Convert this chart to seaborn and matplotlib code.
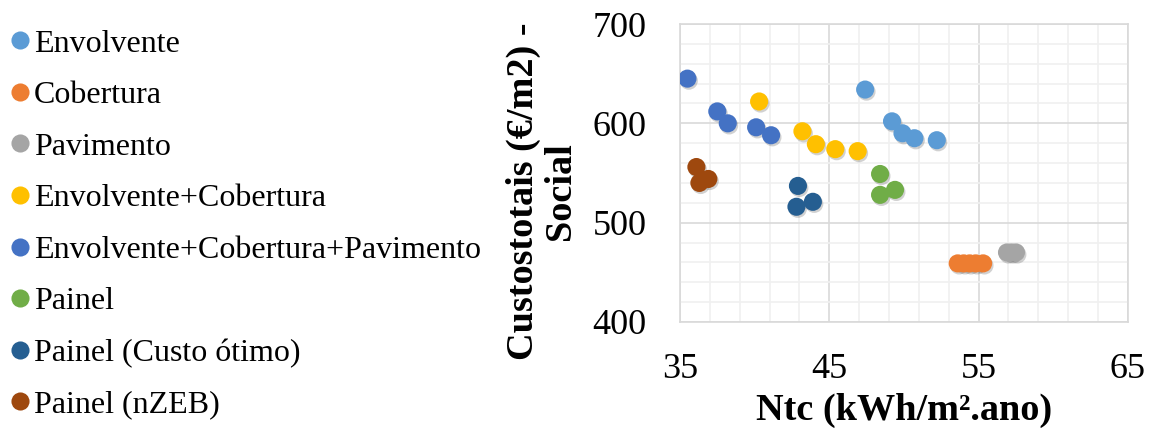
import numpy as np
import pandas as pd
import matplotlib
matplotlib.use("Agg")
import matplotlib.pyplot as plt
import matplotlib.patheffects as pe
import seaborn as sns

# data
series = ["Envolvente", "Cobertura", "Pavimento", "Envolvente+Cobertura",
          "Envolvente+Cobertura+Pavimento", "Painel", "Painel (Custo ótimo)",
          "Painel (nZEB)"]
colors = ["#5B9BD5", "#ED7D31", "#A5A5A5", "#FFC000",
          "#4472C4", "#70AD47", "#255E91", "#9E480E"]

envolvente_x = [47.4, 49.2, 49.9, 50.7, 52.2]
envolvente_y = [634, 602, 590, 585, 583]
cobertura_x = [53.6, 54.0, 54.4, 54.8, 55.3]
cobertura_y = [459, 459, 459, 459, 459]
pavimento_x = [56.9, 57.2, 57.5]
pavimento_y = [470, 470, 470]
env_cob_x = [40.3, 43.2, 44.1, 45.4, 46.9]
env_cob_y = [622, 592, 579, 574, 572]
env_cob_pav_x = [35.5, 37.5, 38.2, 40.1, 41.1]
env_cob_pav_y = [645, 612, 600, 596, 588]
painel_x = [48.4, 49.4, 48.4]
painel_y = [549, 533, 528]
painel_co_x = [42.9, 43.9, 42.8]
painel_co_y = [537, 521, 516]
painel_nzeb_x = [36.1, 36.9, 36.3]
painel_nzeb_y = [556, 544, 540]

x_ticks = [35, 45, 55, 65]
y_ticks = [400, 500, 600, 700]

xs = [envolvente_x, cobertura_x, pavimento_x, env_cob_x, env_cob_pav_x,
      painel_x, painel_co_x, painel_nzeb_x]
ys = [envolvente_y, cobertura_y, pavimento_y, env_cob_y, env_cob_pav_y,
      painel_y, painel_co_y, painel_nzeb_y]

rows = []
for name, sx, sy in zip(series, xs, ys):
    for a, b in zip(sx, sy):
        rows.append({"serie": name, "ntc": a, "custo": b})
df = pd.DataFrame(rows)

sns.set_style("white")
plt.rcParams["font.family"] = ["Liberation Serif", "DejaVu Serif"]
plt.rcParams["text.color"] = "black"
plt.rcParams["axes.labelcolor"] = "black"
plt.rcParams["xtick.color"] = "black"
plt.rcParams["ytick.color"] = "black"

fig = plt.figure(figsize=(11.57, 4.34), dpi=100)
ax = fig.add_axes([0.5877, 0.2581, 0.3872, 0.6866])

sns.scatterplot(data=df, x="ntc", y="custo", hue="serie", hue_order=series,
                palette=dict(zip(series, colors)), s=170, linewidth=0,
                ax=ax, legend=True, zorder=3)
for coll in ax.collections:
    coll.set_path_effects([pe.SimplePatchShadow(offset=(1, -1.5), shadow_rgbFace="#303030",
                                                alpha=0.22),
                           pe.Normal()])

# axes
ax.set_xlim(35, 65)
ax.set_ylim(400, 700)
ax.set_xticks(x_ticks)
ax.set_xticks(np.arange(35, 66, 2), minor=True)
ax.set_yticks(y_ticks)
ax.set_yticks(np.arange(400, 701, 20), minor=True)
ax.grid(which="major", color="#D9D9D9", lw=1.2, zorder=0)
ax.grid(which="minor", color="#F0F0F0", lw=1.2, zorder=0)
ax.set_axisbelow(True)
for loc in ["top", "right", "bottom", "left"]:
    ax.spines[loc].set_visible(True)
    ax.spines[loc].set_color("#D9D9D9")
    ax.spines[loc].set_linewidth(1.2)
ax.tick_params(axis="both", which="both", length=0, labelsize=26)
ax.tick_params(axis="x", pad=22)
ax.tick_params(axis="y", pad=24)
ax.set_xlabel("Ntc (kWh/m².ano)", fontsize=27.5, fontweight="bold", labelpad=5)
ax.set_ylabel("Custostotais (€/m2) -\nSocial", fontsize=27.5, fontweight="bold",
              linespacing=1.1)
ax.yaxis.set_label_coords(-0.308, 0.44)
ax.yaxis.label.set_va("center")

# legend on the left
handles, labels = ax.get_legend_handles_labels()
ax.get_legend().remove()
fig.legend(handles, labels, loc="upper left", bbox_to_anchor=(-0.0156, 0.977),
           frameon=False, fontsize=23, handletextpad=-0.175, handlelength=1.2,
           labelspacing=0.695, markerscale=1.0, borderaxespad=0.2)

fig.savefig("out.png", dpi=100)
